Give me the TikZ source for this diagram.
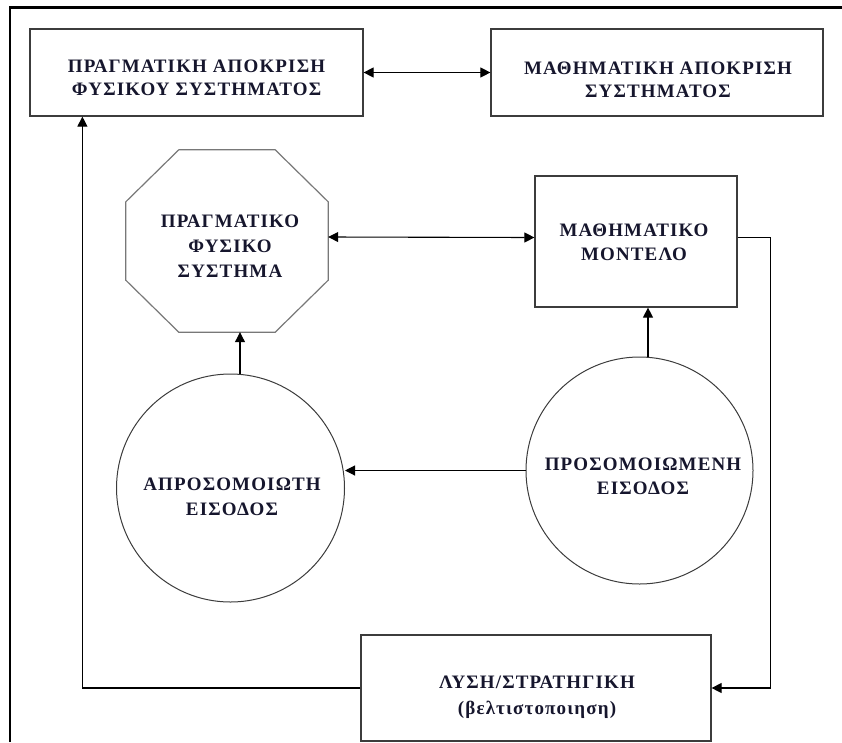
\documentclass[tikz,border=0pt]{standalone}
\usepackage{fontspec}
\setmainfont{Liberation Serif}[LetterSpace=6]
\usetikzlibrary{arrows.meta}
\definecolor{txt}{RGB}{22,22,45}
\definecolor{boxline}{RGB}{60,60,60}
\definecolor{octline}{RGB}{120,120,120}
\tikzset{
  box/.style={draw=boxline, line width=1.2pt, inner sep=0pt},
  circ/.style={draw=boxline, line width=1pt, circle, inner sep=0pt},
  lbl/.style={inner sep=0pt, align=center, text=txt,
    font=\fontsize{19}{#1}\selectfont\bfseries},
  lbl/.default=24,
  arr/.style={draw=black, line width=1.1pt, -{Triangle[length=10pt,width=10pt]}},
  darr/.style={draw=black, line width=1.1pt, {Triangle[length=10pt,width=10pt]}-{Triangle[length=10pt,width=10pt]}}
}
\begin{document}
\begin{tikzpicture}[x=1pt,y=-1pt]
\useasboundingbox (0,0) rectangle (842,742);
% frame
\draw[line width=2.2pt, black] (10,742) -- (10,7.5) -- (842,7.5);

% top boxes
\node[box, minimum width=333pt, minimum height=87pt] (b1) at (196.5,72.5) {};
\node[lbl=23] (b1t) at (196.5,77.5) {ΠΡΑΓΜΑΤΙΚΗ ΑΠΟΚΡΙΣΗ\\ΦΥΣΙΚΟΥ ΣΥΣΤΗΜΑΤΟΣ};
\node[box, minimum width=332pt, minimum height=87pt] (b2) at (657,72.5) {};
\node[lbl=23] (b2t) at (658,79.5) {ΜΑΘΗΜΑΤΙΚΗ ΑΠΟΚΡΙΣΗ\\ΣΥΣΤΗΜΑΤΟΣ};

% octagon
\node[inner sep=0pt, minimum width=202pt, minimum height=182pt] (oct) at (227,241) {};
\draw[octline, line width=1.2pt]
  ([xshift=53pt]oct.north west) -- ([xshift=-53pt]oct.north east)
  -- ([yshift=-52pt]oct.north east) -- ([yshift=52pt]oct.south east)
  -- ([xshift=-53pt]oct.south east) -- ([xshift=53pt]oct.south west)
  -- ([yshift=52pt]oct.south west) -- ([yshift=-52pt]oct.north west) -- cycle;
\node[lbl=25] (octt) at (230,246) {ΠΡΑΓΜΑΤΙΚΟ\\ΦΥΣΙΚΟ\\ΣΥΣΤΗΜΑ};

% math model
\node[box, minimum width=202pt, minimum height=131pt] (mm) at (636,241.5) {};
\node[lbl=24] (mmt) at (634,242) {ΜΑΘΗΜΑΤΙΚΟ\\ΜΟΝΤΕΛΟ};

% circles
\node[circ, minimum size=228pt] (lc) at (230.5,488) {};
\node[lbl=24.5] (lct) at (232,497) {ΑΠΡΟΣΟΜΟΙΩΤΗ\\ΕΙΣΟΔΟΣ};
\node[circ, minimum size=227pt] (rc) at (639.5,470.5) {};
\node[lbl=24] (rct) at (643,476.5) {ΠΡΟΣΟΜΟΙΩΜΕΝΗ\\ΕΙΣΟΔΟΣ};

% solution box
\node[box, minimum width=350pt, minimum height=106pt] (sol) at (536,688) {};
\node[lbl=26] (solt) at (537,697) {ΛΥΣΗ/ΣΤΡΑΤΗΓΙΚΗ\\(βελτιστοποιηση)};

% connectors
\draw[darr] (b1.east) -- (b2.west);
\draw[darr] ([yshift=4pt]oct.east) -- ([yshift=4pt]mm.west);
\draw[arr] ([xshift=9.5pt]lc.north) -- ([xshift=9.5pt]lc.north |- oct.south);
\draw[arr] ([xshift=8.5pt]rc.north) -- ([xshift=8.5pt]rc.north |- mm.south);
\draw[arr] (rc.west) -- (rc.west -| lc.east);
\draw[arr] ([yshift=4pt]mm.east) -- ++(33pt,0) |- (sol.east);
\draw[arr] (sol.west) -| ([xshift=53pt]b1.south west);
\end{tikzpicture}
\end{document}
